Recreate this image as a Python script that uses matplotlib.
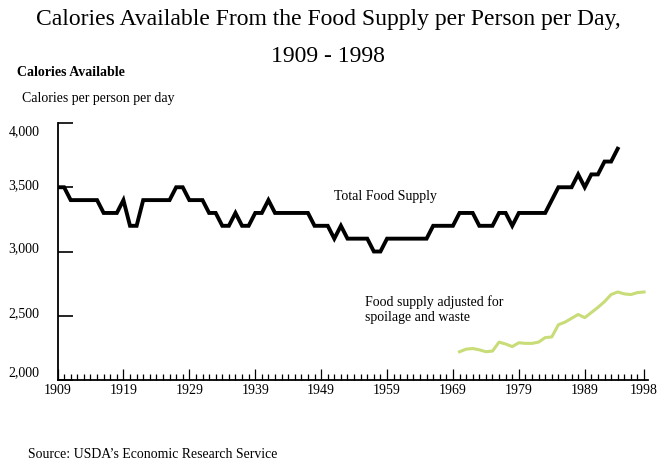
import matplotlib
matplotlib.use('Agg')
import matplotlib.pyplot as plt
from matplotlib.transforms import ScaledTranslation

plt.rcParams['font.family'] = 'Liberation Serif'

# total food supply, calories per person per day
years_total = list(range(1909, 1995))
total_supply = [3500, 3500, 3400, 3400, 3400, 3400, 3400, 3300, 3300, 3300,
                3400, 3200, 3200, 3400, 3400, 3400, 3400, 3400, 3500, 3500,
                3400, 3400, 3400, 3300, 3300, 3200, 3200, 3300, 3200, 3200,
                3300, 3300, 3400, 3300, 3300, 3300, 3300, 3300, 3300, 3200,
                3200, 3200, 3100, 3200, 3100, 3100, 3100, 3100, 3000, 3000,
                3100, 3100, 3100, 3100, 3100, 3100, 3100, 3200, 3200, 3200,
                3200, 3300, 3300, 3300, 3200, 3200, 3200, 3300, 3300, 3200,
                3300, 3300, 3300, 3300, 3300, 3400, 3500, 3500, 3500, 3600,
                3500, 3600, 3600, 3700, 3700, 3800]

# adjusted for spoilage and waste
years_adj = list(range(1970, 1999))
adjusted_supply = [2220, 2240, 2245, 2235, 2220, 2225, 2295, 2280, 2260, 2290,
                   2285, 2285, 2295, 2330, 2335, 2430, 2450, 2480, 2510, 2485,
                   2525, 2565, 2610, 2665, 2685, 2670, 2665, 2680, 2685]

xtick_years = [1909, 1919, 1929, 1939, 1949, 1959, 1969, 1979, 1989, 1998]
ytick_vals = [2000, 2500, 3000, 3500, 4000]
ytick_labels = ['2,000', '2,500', '3,000', '3,500', '4,000']

fig = plt.figure(figsize=(6.72, 4.67), dpi=100)
ax = fig.add_axes([0.0856, 0.1863, 0.8787, 0.5503])

ax.plot(years_total, total_supply, color='black', lw=2.8, solid_joinstyle='miter')
ax.plot(years_adj, adjusted_supply, color='#c8dc78', lw=2.2)

ax.set_xlim(1909, 1998.6)
ax.set_ylim(2000, 4000)

for s in ['top', 'right']:
  ax.spines[s].set_visible(False)
ax.spines['left'].set_linewidth(1.3)
ax.spines['bottom'].set_linewidth(1.3)

ax.set_xticks(xtick_years)
ax.set_xticklabels([str(y) for y in xtick_years])
ax.set_xticks(range(1909, 1999), minor=True)
ax.set_yticks(ytick_vals)
ax.set_yticklabels(ytick_labels)

ax.tick_params(axis='x', which='major', direction='in', length=7.7, width=0.9, pad=3, labelsize=10)
ax.tick_params(axis='x', which='minor', direction='in', length=4.2, width=0.9)
ax.tick_params(axis='y', which='major', direction='in', length=10.5, width=1.2, pad=13, labelsize=10)

# the y labels in the original sit a little off their ticks
shifts = [9, 4, 4, 3, -7]
for lab, dy in zip(ax.get_yticklabels(), shifts):
  lab.set_transform(lab.get_transform() + ScaledTranslation(0, dy / 100, fig.dpi_scale_trans))

ax.text(1958.8, 3425, 'Total Food Supply', fontsize=10, ha='center', va='center')
ax.text(1955.7, 2548, 'Food supply adjusted for\nspoilage and waste', fontsize=10,
        ha='left', va='center', linespacing=1.15)

fig.text(0.488, 0.958, 'Calories Available From the Food Supply per Person per Day,',
         fontsize=17, ha='center', va='center')
fig.text(0.488, 0.88, '1909 - 1998', fontsize=17, ha='center', va='center')
fig.text(0.025, 0.844, 'Calories Available', fontsize=10, fontweight='bold', ha='left', va='center')
fig.text(0.033, 0.79, 'Calories per person per day', fontsize=10, ha='left', va='center')
fig.text(0.042, 0.027, 'Source: USDA\u2019s Economic Research Service', fontsize=9.9,
         ha='left', va='center')

fig.savefig('out.png', dpi=100)
